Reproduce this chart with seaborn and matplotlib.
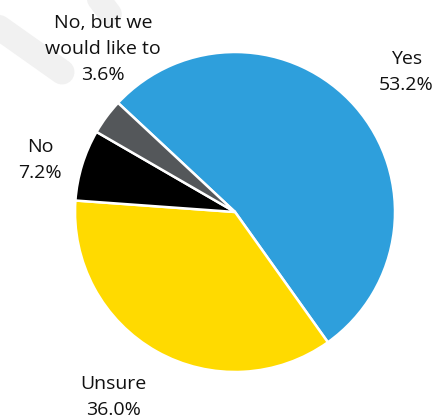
import matplotlib
matplotlib.use("Agg")
import matplotlib.pyplot as plt
from matplotlib.lines import Line2D
import seaborn as sns

categories = ["Yes", "Unsure", "No", "No, but we\nwould like to"]
values = [53.2, 36.0, 7.2, 3.6]
value_labels = ["53.2%", "36.0%", "7.2%", "3.6%"]

sns.set_theme(style="white")
plt.rcParams["font.family"] = ["Open Sans", "DejaVu Sans"]

colors = ["#2E9FDC", "#FFDA00", "#000000", "#54575A"]

W, H = 433, 420
fig = plt.figure(figsize=(W / 100, H / 100), dpi=100)

# faint watermark bands (background decoration)
for (x0, y0, x1, y1, lw) in [(-20, 14, 62, 72, 18), (92, -10, 110, 14, 17)]:
    fig.add_artist(Line2D([x0 / W, x1 / W], [1 - y0 / H, 1 - y1 / H],
                          transform=fig.transFigure, color="#f1f1f1",
                          linewidth=lw, solid_capstyle="round", zorder=0))

ax = fig.add_axes([0, 0, 1, 1])
ax.patch.set_alpha(0)
ax.pie(values, colors=colors, startangle=137, counterclock=False,
       radius=1.0, center=(0, 0),
       wedgeprops=dict(edgecolor="white", linewidth=1.8))
ax.set_xlim(-1.469, 1.2375)
ax.set_ylim(-1.3, 1.325)
ax.set_aspect("equal")
ax.axis("off")

label_pos = [(1.07, 0.875), (-0.7625, -1.156), (-1.219, 0.325), (-0.825, 1.019)]
for cat, lab, (x, y) in zip(categories, value_labels, label_pos):
    ax.text(x, y, f"{cat}\n{lab}", ha="center", va="center", fontsize=14,
            color="#111111", linespacing=1.55)

fig.savefig("out.png", dpi=100, facecolor="white")
